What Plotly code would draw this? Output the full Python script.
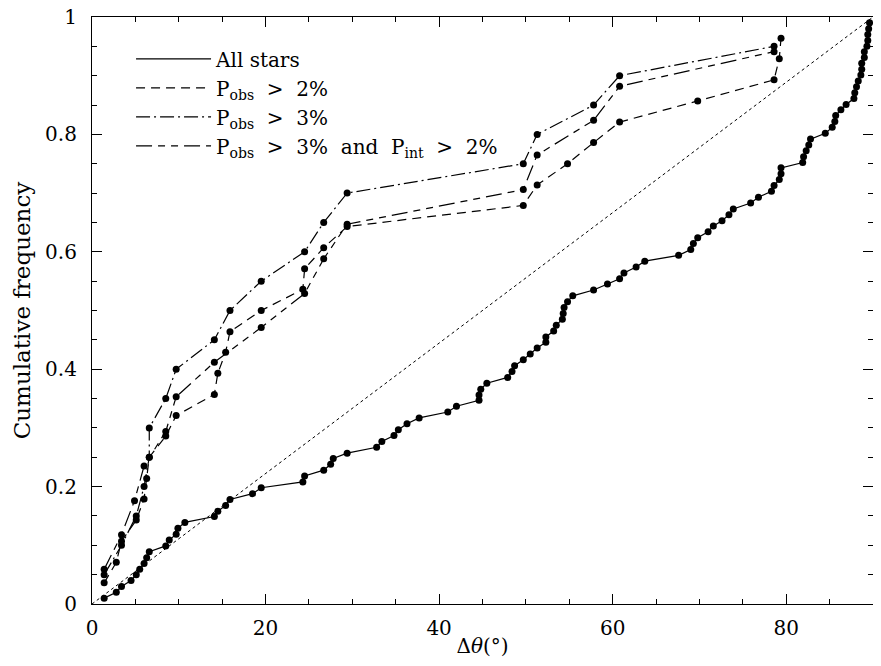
import plotly.graph_objects as go

# angle differences (degrees) and cumulative frequency
all_x = [
    1.4, 2.8, 3.4, 4.5, 5.1, 5.5, 6.0, 6.3, 6.6, 8.5,
    8.9, 9.7, 9.9, 10.7, 14.1, 14.5, 15.4, 15.9, 18.5, 19.5,
    24.3, 24.5, 26.7, 27.5, 27.8, 29.4, 32.8, 33.4, 34.8, 35.3,
    36.3, 37.7, 41.0, 42.0, 44.6, 44.6, 44.8, 45.5, 47.9, 48.4,
    48.7, 49.7, 50.5, 51.3, 52.3, 52.3, 53.2, 53.5, 54.2, 54.3,
    54.4, 54.8, 55.4, 57.8, 59.4, 60.8, 61.3, 62.7, 63.7, 67.6,
    69.0, 69.3, 69.8, 71.0, 71.6, 72.6, 73.4, 73.9, 75.9, 76.8,
    78.3, 78.6, 79.2, 79.4, 79.4, 81.9, 82.0, 82.3, 82.6, 82.8,
    84.5, 85.3, 85.6, 85.7, 86.3, 86.9, 87.8, 87.9, 88.1, 88.3,
    88.6, 88.7, 88.7, 89.0, 89.0, 89.3, 89.4, 89.4, 89.5, 89.6,
]
all_y = [
    0.010, 0.020, 0.030, 0.040, 0.050, 0.059, 0.069, 0.079, 0.089, 0.099,
    0.109, 0.119, 0.129, 0.139, 0.149, 0.158, 0.168, 0.178, 0.188, 0.198,
    0.208, 0.218, 0.228, 0.238, 0.248, 0.257, 0.267, 0.277, 0.287, 0.297,
    0.307, 0.317, 0.327, 0.337, 0.347, 0.356, 0.366, 0.376, 0.386, 0.396,
    0.406, 0.416, 0.426, 0.436, 0.446, 0.455, 0.465, 0.475, 0.485, 0.495,
    0.505, 0.515, 0.525, 0.535, 0.545, 0.554, 0.564, 0.574, 0.584, 0.594,
    0.604, 0.614, 0.624, 0.634, 0.644, 0.653, 0.663, 0.673, 0.683, 0.693,
    0.703, 0.713, 0.723, 0.733, 0.743, 0.752, 0.762, 0.772, 0.782, 0.792,
    0.802, 0.812, 0.822, 0.832, 0.842, 0.851, 0.861, 0.871, 0.881, 0.891,
    0.901, 0.911, 0.921, 0.931, 0.941, 0.950, 0.960, 0.970, 0.980, 0.990,
]

p2_x = [
    1.4, 2.8, 3.4, 5.1, 6.0, 6.3, 6.6, 8.5, 9.7, 14.1,
    14.5, 15.4, 15.9, 19.5, 24.3, 24.5, 26.7, 29.4, 49.7, 51.3,
    54.8, 57.8, 60.8, 69.8, 78.6, 79.2, 79.4,
]
p2_y = [
    0.036, 0.071, 0.107, 0.143, 0.179, 0.214, 0.250, 0.286, 0.321, 0.357,
    0.393, 0.429, 0.464, 0.500, 0.536, 0.571, 0.607, 0.643, 0.679, 0.714,
    0.750, 0.786, 0.821, 0.857, 0.893, 0.929, 0.964,
]

p3_x = [
    1.4, 3.4, 5.1, 6.0, 6.6, 6.6, 8.5, 9.7, 14.1, 15.9,
    19.5, 24.5, 26.7, 29.4, 49.7, 51.3, 57.8, 60.8, 78.6,
]
p3_y = [
    0.05, 0.10, 0.15, 0.20, 0.25, 0.30, 0.35, 0.40, 0.45, 0.50,
    0.55, 0.60, 0.65, 0.70, 0.75, 0.80, 0.85, 0.90, 0.95,
]

p3i_x = [
    1.4, 3.4, 4.9, 6.0, 8.5, 9.7, 14.1, 19.5, 24.5, 26.7,
    29.4, 49.7, 51.3, 57.8, 60.8, 78.6,
]
p3i_y = [
    0.059, 0.118, 0.176, 0.235, 0.294, 0.353, 0.412, 0.471, 0.529, 0.588,
    0.647, 0.706, 0.765, 0.824, 0.882, 0.941,
]

uniform_x = [0, 90]
uniform_y = [0, 1]

FONT = "DejaVu Serif"

series = [
    ("All stars", all_x, all_y, "solid"),
    ("P<sub>obs</sub>  >  2%", p2_x, p2_y, "9px,6px"),
    ("P<sub>obs</sub>  >  3%", p3_x, p3_y, "14px,4px,2px,4px"),
    ("P<sub>obs</sub>  >  3%  and  P<sub>int</sub>  >  2%", p3i_x, p3i_y,
     "16px,6px,7px,6px,7px,6px"),
]

fig = go.Figure()

fig.add_trace(
    go.Scatter(
        x=uniform_x, y=uniform_y, mode="lines",
        line=dict(color="black", width=1, dash="dot"),
        showlegend=False, hoverinfo="skip",
    )
)

for name, xs, ys, dash in series:
    fig.add_trace(
        go.Scatter(
            x=xs, y=ys, mode="lines", name=name,
            line=dict(color="black", width=1.2, dash=dash),
        )
    )
    fig.add_trace(
        go.Scatter(
            x=xs, y=ys, mode="markers", showlegend=False,
            marker=dict(color="black", size=7),
        )
    )

axis_common = dict(
    showline=True, linecolor="black", linewidth=1.2, mirror="allticks",
    ticks="inside", ticklen=10, tickcolor="black", tickwidth=1,
    showgrid=False, zeroline=False, automargin=False,
    ticklabeloverflow="allow",
    tickfont=dict(family=FONT, size=20, color="black"),
)

fig.update_xaxes(
    range=[0, 90], dtick=20, tick0=0,
    minor=dict(dtick=5, ticks="inside", ticklen=5, tickcolor="black"),
    title=dict(text="Δ<i>θ</i>(°)", font=dict(family=FONT, size=20, color="black"), standoff=4),
    ticklabelstandoff=6,
    **axis_common,
)
fig.update_yaxes(
    range=[0, 1], dtick=0.2, tick0=0,
    minor=dict(dtick=0.05, ticks="inside", ticklen=5, tickcolor="black"),
    title=dict(text="Cumulative frequency", font=dict(family=FONT, size=23, color="black"), standoff=8),
    ticklabelstandoff=10,
    **axis_common,
)

# the page puts the figure 8px in from each edge; keep it inside the window
fig.update_layout(
    width=865, height=650,
    margin=dict(l=84, r=0, t=9, b=54),
    paper_bgcolor="white", plot_bgcolor="white",
    legend=dict(
        x=0.05, y=0.962, xanchor="left", yanchor="top",
        bgcolor="rgba(0,0,0,0)", itemwidth=75, tracegroupgap=0,
        font=dict(family=FONT, size=20, color="black"),
    ),
)

fig.write_html("out.html")
